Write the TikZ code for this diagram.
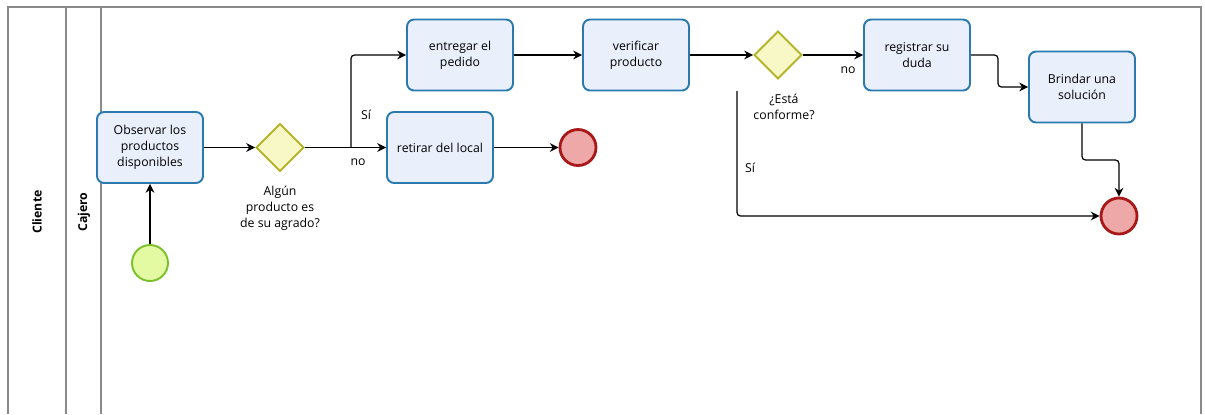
\documentclass[tikz,border=0pt]{standalone}
\usepackage{fontspec}
\setmainfont{Open Sans}
\usetikzlibrary{shapes.geometric,arrows.meta}
\definecolor{taskfill}{HTML}{EAEFFC}
\definecolor{taskdraw}{HTML}{2A7AB0}
\definecolor{gwfill}{HTML}{F8F8C6}
\definecolor{gwdraw}{HTML}{B4B42A}
\definecolor{stfill}{HTML}{E4FAA2}
\definecolor{stdraw}{HTML}{7CC02C}
\definecolor{enfill}{HTML}{EFA8A8}
\definecolor{endraw}{HTML}{A81818}
\definecolor{lanecol}{HTML}{8A8A8A}
\begin{document}
\begin{tikzpicture}[x=0.02cm,y=-0.02cm,
  every node/.style={font=\fontsize{7}{9}\selectfont},
  task/.style={draw=taskdraw,fill=taskfill,rounded corners=4pt,line width=1.1pt,
    minimum width=2.12cm,minimum height=1.42cm,align=center,inner sep=1pt},
  gw/.style={diamond,draw=gwdraw,fill=gwfill,line width=1.1pt,minimum width=0.96cm,
    minimum height=0.96cm,inner sep=0pt},
  startev/.style={circle,draw=stdraw,fill=stfill,line width=1.1pt,minimum size=0.72cm,inner sep=0pt},
  endev/.style={circle,draw=endraw,fill=enfill,line width=1.6pt,minimum size=0.72cm,inner sep=0pt},
  flow/.style={draw=black,line width=0.7pt,rounded corners=2pt,-{Stealth[length=5pt,width=5pt]}},
  lane/.style={draw=lanecol,line width=0.8pt},
  lbl/.style={align=center,inner sep=0pt},
  lanelbl/.style={rotate=90,font=\fontsize{7}{9}\selectfont\bfseries}]
\useasboundingbox (0,0) rectangle (1205,414);
% pool and lanes
\draw[lane] (8,414) -- (8,7) -- (1201,7) -- (1201,414);
\draw[lane] (66,7) -- (66,414);
\draw[lane] (101,7) -- (101,414);
\node[lanelbl] (cliente) at (37,212) {Cliente};
\node[lanelbl] (cajero) at (84,212) {Cajero};
% nodes
\node[task] (obs) at (150,147.5) {Observar los\\productos\\disponibles};
\node[startev] (start) at (150,263) {};
\node[gw] (gw1) at (280,147.5) {};
\node[lbl] (gw1lbl) at (280,208) {Algún\\producto es\\de su agrado?};
\node[task] (entregar) at (460,55) {entregar el\\pedido};
\node[task] (verificar) at (636,55) {verificar\\producto};
\node[task] (retirar) at (440,147.5) {retirar del local};
\node[endev] (end1) at (578,147.5) {};
\node[gw] (gw2) at (778,55) {};
\node[lbl] (gw2lbl) at (784,107) {¿Está\\conforme?};
\node[task] (registrar) at (917,55) {registrar su\\duda};
\node[task] (brindar) at (1082,87) {Brindar una\\solución};
\node[endev] (end2) at (1119,216) {};
% connectors
\coordinate (split) at (351,147.5);
\coordinate (sifree) at (737,91);
\draw[flow] (start) -- (obs);
\draw[flow] (obs) -- (gw1);
\draw[flow] (gw1) -- (retirar);
\draw[flow] (split) -- (split |- entregar) -- (entregar);
\draw[flow] (retirar) -- (end1);
\draw[flow] (entregar) -- (verificar);
\draw[flow] (verificar) -- (gw2);
\draw[flow] (gw2) -- (registrar);
\draw[flow] (registrar.east) -- (998,55) |- (brindar.west);
\draw[flow] (brindar.south) -- (1082,160) -| (end2.north);
\draw[flow] (sifree) |- (end2.west);
% labels
\node[lbl] (no1) at (358,162) {no};
\node[lbl] (si1) at (366,115) {Sí};
\node[lbl] (no2) at (848,70) {no};
\node[lbl] (si2) at (750,168) {Sí};
\end{tikzpicture}
\end{document}
